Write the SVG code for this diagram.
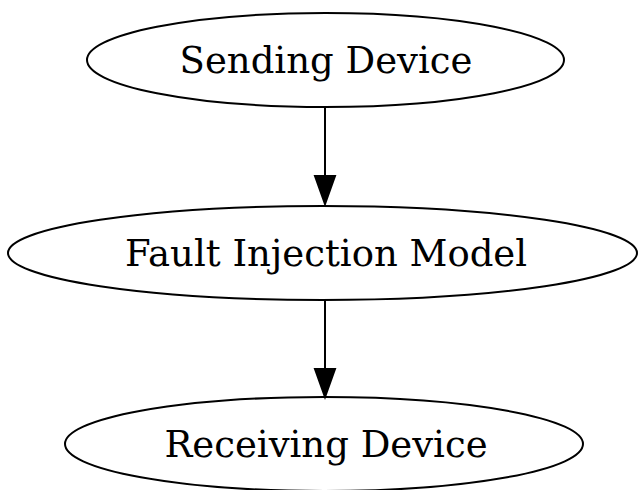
<svg xmlns="http://www.w3.org/2000/svg" width="638" height="490" viewBox="0 0 638 490">
<style>
.node ellipse{fill:none;stroke:#000;stroke-width:2}
.node text{font-family:"DejaVu Serif",serif;font-size:37px;fill:#000;text-anchor:middle}
.edge line{stroke:#000;stroke-width:2}
.edge polygon{fill:#000;stroke:#000;stroke-width:2}
</style>
<rect width="638" height="490" fill="#fff"/>
<g id="connectors">
<g class="edge" id="e1">
<line x1="325" y1="107" x2="325" y2="176"/>
<polygon points="315,176 335,176 325,204"/>
</g>
<g class="edge" id="e2">
<line x1="325" y1="300" x2="325" y2="369"/>
<polygon points="315,369 335,369 325,397"/>
</g>
</g>
<g class="node" id="sending">
<ellipse cx="325.5" cy="60" rx="238.5" ry="47"/>
<text x="326" y="73">Sending Device</text>
</g>
<g class="node" id="fault">
<ellipse cx="322.5" cy="253" rx="314.5" ry="47"/>
<text x="326" y="266">Fault Injection Model</text>
</g>
<g class="node" id="receiving">
<ellipse cx="324" cy="444" rx="259" ry="47"/>
<text x="326" y="457">Receiving Device</text>
</g>
</svg>
